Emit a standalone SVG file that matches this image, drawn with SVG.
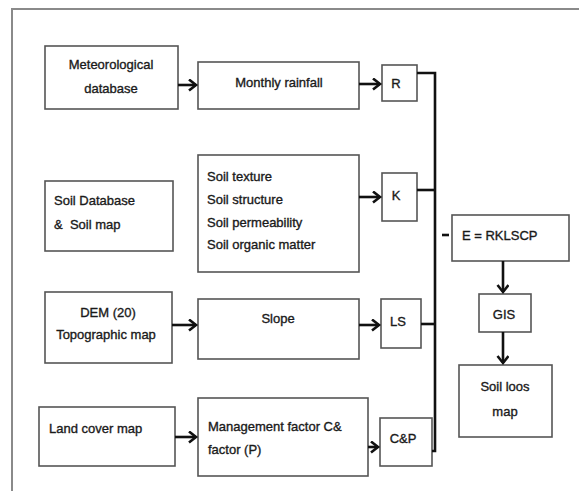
<svg xmlns="http://www.w3.org/2000/svg" width="579" height="491" viewBox="0 0 579 491">
<defs>
<marker id="ah" markerUnits="userSpaceOnUse" markerWidth="12" markerHeight="14" refX="8" refY="6" orient="auto">
<path d="M1,0.5 L8,6 L1,11.5" fill="none" stroke="#111" stroke-width="2.6"/>
</marker>
<style>
.box{fill:#fff;stroke:#555;stroke-width:1.6}
.t{font-family:"Liberation Sans",Arial,sans-serif;font-size:13px;fill:#1a1a1a;stroke:#1a1a1a;stroke-width:0.35}
.c{text-anchor:middle}
.ar{stroke:#111;stroke-width:2.6;fill:none}
.bus{stroke:#111;stroke-width:2.6;fill:none}
</style>
</defs>
<rect width="579" height="491" fill="#fff"/>
<path d="M12,491 L12,9 L579,9" fill="none" stroke="#8a8a8a" stroke-width="2"/>

<g id="met"><rect class="box" x="45" y="46" width="133" height="63"/><text class="t c" x="111" y="69">Meteorological</text><text class="t c" x="111" y="93">database</text></g>
<g id="rain"><rect class="box" x="198" y="62" width="161" height="47"/><text class="t c" x="279" y="87">Monthly rainfall</text></g>
<g id="R"><rect class="box" x="382" y="65" width="35" height="36"/><text class="t c" x="396" y="88">R</text></g>

<g id="soildb"><rect class="box" x="45" y="181" width="128" height="70"/><text class="t" x="54" y="205">Soil Database</text><text class="t" x="54" y="229" xml:space="preserve">&amp;  Soil map</text></g>
<g id="soilprops"><rect class="box" x="198" y="155" width="161" height="117"/><text class="t" x="207" y="181">Soil texture</text><text class="t" x="207" y="204">Soil structure</text><text class="t" x="207" y="227">Soil permeability</text><text class="t" x="207" y="249">Soil organic matter</text></g>
<g id="K"><rect class="box" x="382" y="173" width="35" height="48"/><text class="t c" x="396" y="200">K</text></g>

<g id="dem"><rect class="box" x="45" y="292" width="127" height="71"/><text class="t c" x="108" y="317">DEM (20)</text><text class="t c" x="106" y="339">Topographic map</text></g>
<g id="slope"><rect class="box" x="198" y="299" width="161" height="60"/><text class="t c" x="278" y="323">Slope</text></g>
<g id="LS"><rect class="box" x="381" y="299" width="40" height="49"/><text class="t c" x="398" y="326">LS</text></g>

<g id="land"><rect class="box" x="39" y="407" width="136" height="59"/><text class="t" x="49" y="433">Land cover map</text></g>
<g id="mgmt"><rect class="box" x="198" y="398" width="170" height="78"/><text class="t" x="208" y="431">Management factor C&amp;</text><text class="t" x="208" y="454">factor (P)</text></g>
<g id="CP"><rect class="box" x="380" y="418" width="52" height="48"/><text class="t c" x="403" y="443">C&amp;P</text></g>

<g id="E"><rect class="box" x="452" y="215" width="117" height="46"/><text class="t" x="462" y="240">E = RKLSCP</text></g>
<g id="GIS"><rect class="box" x="479" y="294" width="52" height="38"/><text class="t c" x="504" y="319">GIS</text></g>
<g id="soilloss"><rect class="box" x="459" y="365" width="93" height="72"/><text class="t c" x="505" y="391">Soil loos</text><text class="t c" x="505" y="416">map</text></g>

<g id="connectors">
<line class="ar" x1="178" y1="85" x2="196" y2="85" marker-end="url(#ah)"/>
<line class="ar" x1="359" y1="84" x2="380" y2="84" marker-end="url(#ah)"/>
<line class="ar" x1="359" y1="197" x2="380" y2="197" marker-end="url(#ah)"/>
<line class="ar" x1="172" y1="325" x2="196" y2="325" marker-end="url(#ah)"/>
<line class="ar" x1="359" y1="325" x2="379" y2="325" marker-end="url(#ah)"/>
<line class="ar" x1="175" y1="437" x2="196" y2="437" marker-end="url(#ah)"/>
<line class="ar" x1="368" y1="447" x2="378" y2="447" marker-end="url(#ah)"/>
<line class="ar" x1="503" y1="261" x2="503" y2="292" marker-end="url(#ah)"/>
<line class="ar" x1="503" y1="332" x2="503" y2="363" marker-end="url(#ah)"/>
<path class="bus" d="M417,73 L435,73 L435,451 L432,451"/>
<line class="bus" x1="417" y1="190" x2="435" y2="190"/>
<line class="bus" x1="421" y1="324" x2="435" y2="324"/>
<line class="bus" x1="442" y1="235" x2="449" y2="235"/>
</g>
</svg>
